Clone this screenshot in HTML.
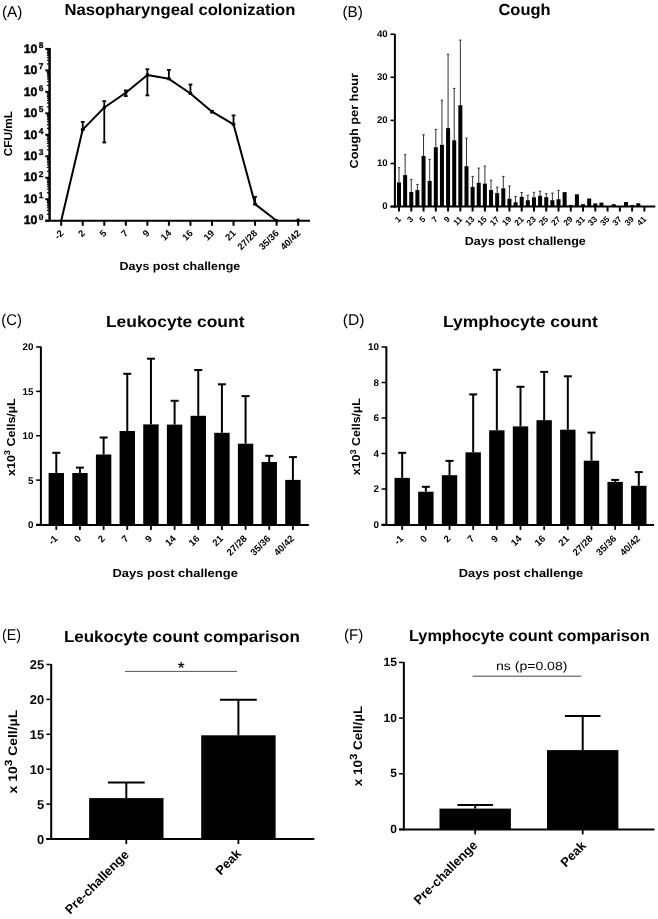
<!DOCTYPE html>
<html><head><meta charset="utf-8"><style>
html,body{margin:0;padding:0;background:#fff;}
svg{display:block;will-change:transform;}
text{font-family:"Liberation Sans",sans-serif;fill:#000;text-rendering:geometricPrecision;}
</style></head><body>
<svg width="658" height="919" viewBox="0 0 658 919">
<rect width="658" height="919" fill="#fff"/>
<text x="1.90" y="17.10" font-size="15.5"  text-anchor="start" textLength="20.4" lengthAdjust="spacingAndGlyphs" >(A)</text>
<text x="342.40" y="16.80" font-size="15.5"  text-anchor="start" textLength="20.4" lengthAdjust="spacingAndGlyphs" >(B)</text>
<text x="1.30" y="325.40" font-size="15.5"  text-anchor="start" textLength="20.6" lengthAdjust="spacingAndGlyphs" >(C)</text>
<text x="342.70" y="324.70" font-size="15.5"  text-anchor="start" textLength="21.7" lengthAdjust="spacingAndGlyphs" >(D)</text>
<text x="1.90" y="639.80" font-size="15.5"  text-anchor="start" textLength="19" lengthAdjust="spacingAndGlyphs" >(E)</text>
<text x="343.90" y="639.60" font-size="15.5"  text-anchor="start" textLength="19.3" lengthAdjust="spacingAndGlyphs" >(F)</text>
<text x="64.40" y="14.60" font-size="16" font-weight="bold" text-anchor="start" textLength="231" lengthAdjust="spacingAndGlyphs" >Nasopharyngeal colonization</text>
<text x="498.50" y="14.60" font-size="16" font-weight="bold" text-anchor="start" textLength="52" lengthAdjust="spacingAndGlyphs" >Cough</text>
<text x="105.90" y="326.50" font-size="16" font-weight="bold" text-anchor="start" textLength="138.6" lengthAdjust="spacingAndGlyphs" >Leukocyte count</text>
<text x="442.90" y="326.80" font-size="16" font-weight="bold" text-anchor="start" textLength="155" lengthAdjust="spacingAndGlyphs" >Lymphocyte count</text>
<text x="63.90" y="641.90" font-size="16" font-weight="bold" text-anchor="start" textLength="235.9" lengthAdjust="spacingAndGlyphs" >Leukocyte count comparison</text>
<text x="409.00" y="641.00" font-size="16" font-weight="bold" text-anchor="start" textLength="240.7" lengthAdjust="spacingAndGlyphs" >Lymphocyte count comparison</text>
<line x1="49.60" y1="48.00" x2="49.60" y2="221.30" stroke="#000" stroke-width="2.5"/>
<line x1="45.30" y1="220.70" x2="49.60" y2="220.70" stroke="#000" stroke-width="2"/>
<text x="37.40" y="224.40" font-size="12.3" font-weight="bold" text-anchor="end" stroke="#000" stroke-width="0.45">10</text>
<text x="38.80" y="219.70" font-size="8.4" font-weight="bold" text-anchor="start" stroke="#000" stroke-width="0.3">0</text>
<line x1="46.90" y1="214.24" x2="49.60" y2="214.24" stroke="#000" stroke-width="1.2"/>
<line x1="46.90" y1="210.45" x2="49.60" y2="210.45" stroke="#000" stroke-width="1.2"/>
<line x1="46.90" y1="207.77" x2="49.60" y2="207.77" stroke="#000" stroke-width="1.2"/>
<line x1="46.90" y1="205.69" x2="49.60" y2="205.69" stroke="#000" stroke-width="1.2"/>
<line x1="46.90" y1="203.99" x2="49.60" y2="203.99" stroke="#000" stroke-width="1.2"/>
<line x1="46.90" y1="202.55" x2="49.60" y2="202.55" stroke="#000" stroke-width="1.2"/>
<line x1="46.90" y1="201.31" x2="49.60" y2="201.31" stroke="#000" stroke-width="1.2"/>
<line x1="46.90" y1="200.21" x2="49.60" y2="200.21" stroke="#000" stroke-width="1.2"/>
<line x1="45.30" y1="199.22" x2="49.60" y2="199.22" stroke="#000" stroke-width="2"/>
<text x="37.40" y="202.92" font-size="12.3" font-weight="bold" text-anchor="end" stroke="#000" stroke-width="0.45">10</text>
<text x="38.80" y="198.22" font-size="8.4" font-weight="bold" text-anchor="start" stroke="#000" stroke-width="0.3">1</text>
<line x1="46.90" y1="192.76" x2="49.60" y2="192.76" stroke="#000" stroke-width="1.2"/>
<line x1="46.90" y1="188.98" x2="49.60" y2="188.98" stroke="#000" stroke-width="1.2"/>
<line x1="46.90" y1="186.30" x2="49.60" y2="186.30" stroke="#000" stroke-width="1.2"/>
<line x1="46.90" y1="184.21" x2="49.60" y2="184.21" stroke="#000" stroke-width="1.2"/>
<line x1="46.90" y1="182.51" x2="49.60" y2="182.51" stroke="#000" stroke-width="1.2"/>
<line x1="46.90" y1="181.08" x2="49.60" y2="181.08" stroke="#000" stroke-width="1.2"/>
<line x1="46.90" y1="179.83" x2="49.60" y2="179.83" stroke="#000" stroke-width="1.2"/>
<line x1="46.90" y1="178.73" x2="49.60" y2="178.73" stroke="#000" stroke-width="1.2"/>
<line x1="45.30" y1="177.75" x2="49.60" y2="177.75" stroke="#000" stroke-width="2"/>
<text x="37.40" y="181.45" font-size="12.3" font-weight="bold" text-anchor="end" stroke="#000" stroke-width="0.45">10</text>
<text x="38.80" y="176.75" font-size="8.4" font-weight="bold" text-anchor="start" stroke="#000" stroke-width="0.3">2</text>
<line x1="46.90" y1="171.29" x2="49.60" y2="171.29" stroke="#000" stroke-width="1.2"/>
<line x1="46.90" y1="167.50" x2="49.60" y2="167.50" stroke="#000" stroke-width="1.2"/>
<line x1="46.90" y1="164.82" x2="49.60" y2="164.82" stroke="#000" stroke-width="1.2"/>
<line x1="46.90" y1="162.74" x2="49.60" y2="162.74" stroke="#000" stroke-width="1.2"/>
<line x1="46.90" y1="161.04" x2="49.60" y2="161.04" stroke="#000" stroke-width="1.2"/>
<line x1="46.90" y1="159.60" x2="49.60" y2="159.60" stroke="#000" stroke-width="1.2"/>
<line x1="46.90" y1="158.36" x2="49.60" y2="158.36" stroke="#000" stroke-width="1.2"/>
<line x1="46.90" y1="157.26" x2="49.60" y2="157.26" stroke="#000" stroke-width="1.2"/>
<line x1="45.30" y1="156.27" x2="49.60" y2="156.27" stroke="#000" stroke-width="2"/>
<text x="37.40" y="159.97" font-size="12.3" font-weight="bold" text-anchor="end" stroke="#000" stroke-width="0.45">10</text>
<text x="38.80" y="155.27" font-size="8.4" font-weight="bold" text-anchor="start" stroke="#000" stroke-width="0.3">3</text>
<line x1="46.90" y1="149.81" x2="49.60" y2="149.81" stroke="#000" stroke-width="1.2"/>
<line x1="46.90" y1="146.03" x2="49.60" y2="146.03" stroke="#000" stroke-width="1.2"/>
<line x1="46.90" y1="143.35" x2="49.60" y2="143.35" stroke="#000" stroke-width="1.2"/>
<line x1="46.90" y1="141.26" x2="49.60" y2="141.26" stroke="#000" stroke-width="1.2"/>
<line x1="46.90" y1="139.56" x2="49.60" y2="139.56" stroke="#000" stroke-width="1.2"/>
<line x1="46.90" y1="138.13" x2="49.60" y2="138.13" stroke="#000" stroke-width="1.2"/>
<line x1="46.90" y1="136.88" x2="49.60" y2="136.88" stroke="#000" stroke-width="1.2"/>
<line x1="46.90" y1="135.78" x2="49.60" y2="135.78" stroke="#000" stroke-width="1.2"/>
<line x1="45.30" y1="134.80" x2="49.60" y2="134.80" stroke="#000" stroke-width="2"/>
<text x="37.40" y="138.50" font-size="12.3" font-weight="bold" text-anchor="end" stroke="#000" stroke-width="0.45">10</text>
<text x="38.80" y="133.80" font-size="8.4" font-weight="bold" text-anchor="start" stroke="#000" stroke-width="0.3">4</text>
<line x1="46.90" y1="128.34" x2="49.60" y2="128.34" stroke="#000" stroke-width="1.2"/>
<line x1="46.90" y1="124.55" x2="49.60" y2="124.55" stroke="#000" stroke-width="1.2"/>
<line x1="46.90" y1="121.87" x2="49.60" y2="121.87" stroke="#000" stroke-width="1.2"/>
<line x1="46.90" y1="119.79" x2="49.60" y2="119.79" stroke="#000" stroke-width="1.2"/>
<line x1="46.90" y1="118.09" x2="49.60" y2="118.09" stroke="#000" stroke-width="1.2"/>
<line x1="46.90" y1="116.65" x2="49.60" y2="116.65" stroke="#000" stroke-width="1.2"/>
<line x1="46.90" y1="115.41" x2="49.60" y2="115.41" stroke="#000" stroke-width="1.2"/>
<line x1="46.90" y1="114.31" x2="49.60" y2="114.31" stroke="#000" stroke-width="1.2"/>
<line x1="45.30" y1="113.32" x2="49.60" y2="113.32" stroke="#000" stroke-width="2"/>
<text x="37.40" y="117.02" font-size="12.3" font-weight="bold" text-anchor="end" stroke="#000" stroke-width="0.45">10</text>
<text x="38.80" y="112.32" font-size="8.4" font-weight="bold" text-anchor="start" stroke="#000" stroke-width="0.3">5</text>
<line x1="46.90" y1="106.86" x2="49.60" y2="106.86" stroke="#000" stroke-width="1.2"/>
<line x1="46.90" y1="103.08" x2="49.60" y2="103.08" stroke="#000" stroke-width="1.2"/>
<line x1="46.90" y1="100.40" x2="49.60" y2="100.40" stroke="#000" stroke-width="1.2"/>
<line x1="46.90" y1="98.31" x2="49.60" y2="98.31" stroke="#000" stroke-width="1.2"/>
<line x1="46.90" y1="96.61" x2="49.60" y2="96.61" stroke="#000" stroke-width="1.2"/>
<line x1="46.90" y1="95.18" x2="49.60" y2="95.18" stroke="#000" stroke-width="1.2"/>
<line x1="46.90" y1="93.93" x2="49.60" y2="93.93" stroke="#000" stroke-width="1.2"/>
<line x1="46.90" y1="92.83" x2="49.60" y2="92.83" stroke="#000" stroke-width="1.2"/>
<line x1="45.30" y1="91.85" x2="49.60" y2="91.85" stroke="#000" stroke-width="2"/>
<text x="37.40" y="95.55" font-size="12.3" font-weight="bold" text-anchor="end" stroke="#000" stroke-width="0.45">10</text>
<text x="38.80" y="90.85" font-size="8.4" font-weight="bold" text-anchor="start" stroke="#000" stroke-width="0.3">6</text>
<line x1="46.90" y1="85.39" x2="49.60" y2="85.39" stroke="#000" stroke-width="1.2"/>
<line x1="46.90" y1="81.60" x2="49.60" y2="81.60" stroke="#000" stroke-width="1.2"/>
<line x1="46.90" y1="78.92" x2="49.60" y2="78.92" stroke="#000" stroke-width="1.2"/>
<line x1="46.90" y1="76.84" x2="49.60" y2="76.84" stroke="#000" stroke-width="1.2"/>
<line x1="46.90" y1="75.14" x2="49.60" y2="75.14" stroke="#000" stroke-width="1.2"/>
<line x1="46.90" y1="73.70" x2="49.60" y2="73.70" stroke="#000" stroke-width="1.2"/>
<line x1="46.90" y1="72.46" x2="49.60" y2="72.46" stroke="#000" stroke-width="1.2"/>
<line x1="46.90" y1="71.36" x2="49.60" y2="71.36" stroke="#000" stroke-width="1.2"/>
<line x1="45.30" y1="70.37" x2="49.60" y2="70.37" stroke="#000" stroke-width="2"/>
<text x="37.40" y="74.07" font-size="12.3" font-weight="bold" text-anchor="end" stroke="#000" stroke-width="0.45">10</text>
<text x="38.80" y="69.37" font-size="8.4" font-weight="bold" text-anchor="start" stroke="#000" stroke-width="0.3">7</text>
<line x1="46.90" y1="63.91" x2="49.60" y2="63.91" stroke="#000" stroke-width="1.2"/>
<line x1="46.90" y1="60.13" x2="49.60" y2="60.13" stroke="#000" stroke-width="1.2"/>
<line x1="46.90" y1="57.45" x2="49.60" y2="57.45" stroke="#000" stroke-width="1.2"/>
<line x1="46.90" y1="55.36" x2="49.60" y2="55.36" stroke="#000" stroke-width="1.2"/>
<line x1="46.90" y1="53.66" x2="49.60" y2="53.66" stroke="#000" stroke-width="1.2"/>
<line x1="46.90" y1="52.23" x2="49.60" y2="52.23" stroke="#000" stroke-width="1.2"/>
<line x1="46.90" y1="50.98" x2="49.60" y2="50.98" stroke="#000" stroke-width="1.2"/>
<line x1="46.90" y1="49.88" x2="49.60" y2="49.88" stroke="#000" stroke-width="1.2"/>
<line x1="45.30" y1="48.90" x2="49.60" y2="48.90" stroke="#000" stroke-width="2"/>
<text x="37.40" y="52.60" font-size="12.3" font-weight="bold" text-anchor="end" stroke="#000" stroke-width="0.45">10</text>
<text x="38.80" y="47.90" font-size="8.4" font-weight="bold" text-anchor="start" stroke="#000" stroke-width="0.3">8</text>
<line x1="45.30" y1="220.70" x2="310.00" y2="220.70" stroke="#000" stroke-width="2"/>
<line x1="61.20" y1="220.70" x2="61.20" y2="225.80" stroke="#000" stroke-width="2"/>
<text x="64.20" y="233.80" font-size="9.5" font-weight="bold" text-anchor="end" transform="rotate(-45 64.20 233.80)" >-2</text>
<line x1="82.74" y1="220.70" x2="82.74" y2="225.80" stroke="#000" stroke-width="2"/>
<text x="85.74" y="233.80" font-size="9.5" font-weight="bold" text-anchor="end" transform="rotate(-45 85.74 233.80)" >2</text>
<line x1="104.28" y1="220.70" x2="104.28" y2="225.80" stroke="#000" stroke-width="2"/>
<text x="107.28" y="233.80" font-size="9.5" font-weight="bold" text-anchor="end" transform="rotate(-45 107.28 233.80)" >5</text>
<line x1="125.82" y1="220.70" x2="125.82" y2="225.80" stroke="#000" stroke-width="2"/>
<text x="128.82" y="233.80" font-size="9.5" font-weight="bold" text-anchor="end" transform="rotate(-45 128.82 233.80)" >7</text>
<line x1="147.36" y1="220.70" x2="147.36" y2="225.80" stroke="#000" stroke-width="2"/>
<text x="150.36" y="233.80" font-size="9.5" font-weight="bold" text-anchor="end" transform="rotate(-45 150.36 233.80)" >9</text>
<line x1="168.90" y1="220.70" x2="168.90" y2="225.80" stroke="#000" stroke-width="2"/>
<text x="171.90" y="233.80" font-size="9.5" font-weight="bold" text-anchor="end" transform="rotate(-45 171.90 233.80)" >14</text>
<line x1="190.44" y1="220.70" x2="190.44" y2="225.80" stroke="#000" stroke-width="2"/>
<text x="193.44" y="233.80" font-size="9.5" font-weight="bold" text-anchor="end" transform="rotate(-45 193.44 233.80)" >16</text>
<line x1="211.98" y1="220.70" x2="211.98" y2="225.80" stroke="#000" stroke-width="2"/>
<text x="214.98" y="233.80" font-size="9.5" font-weight="bold" text-anchor="end" transform="rotate(-45 214.98 233.80)" >19</text>
<line x1="233.52" y1="220.70" x2="233.52" y2="225.80" stroke="#000" stroke-width="2"/>
<text x="236.52" y="233.80" font-size="9.5" font-weight="bold" text-anchor="end" transform="rotate(-45 236.52 233.80)" >21</text>
<line x1="255.06" y1="220.70" x2="255.06" y2="225.80" stroke="#000" stroke-width="2"/>
<text x="258.06" y="233.80" font-size="9.5" font-weight="bold" text-anchor="end" transform="rotate(-45 258.06 233.80)" >27/28</text>
<line x1="276.60" y1="220.70" x2="276.60" y2="225.80" stroke="#000" stroke-width="2"/>
<text x="279.60" y="233.80" font-size="9.5" font-weight="bold" text-anchor="end" transform="rotate(-45 279.60 233.80)" >35/36</text>
<line x1="298.14" y1="220.70" x2="298.14" y2="225.80" stroke="#000" stroke-width="2"/>
<text x="301.14" y="233.80" font-size="9.5" font-weight="bold" text-anchor="end" transform="rotate(-45 301.14 233.80)" >40/42</text>
<polyline fill="none" stroke="#000" stroke-width="2" stroke-linejoin="round" points="61.2,220.7 82.7,129.6 104.3,107.5 125.8,92.7 147.4,74.9 168.9,78.8 190.4,93.5 212.0,111.7 233.5,124.3 255.1,204.1 276.6,220.7"/>
<rect x="81.24" y="128.10" width="3.00" height="3.00" fill="#000"/>
<rect x="102.78" y="106.00" width="3.00" height="3.00" fill="#000"/>
<rect x="124.32" y="91.20" width="3.00" height="3.00" fill="#000"/>
<rect x="145.86" y="73.40" width="3.00" height="3.00" fill="#000"/>
<rect x="167.40" y="77.30" width="3.00" height="3.00" fill="#000"/>
<rect x="188.94" y="92.00" width="3.00" height="3.00" fill="#000"/>
<rect x="210.48" y="110.20" width="3.00" height="3.00" fill="#000"/>
<rect x="232.02" y="122.80" width="3.00" height="3.00" fill="#000"/>
<rect x="253.56" y="202.60" width="3.00" height="3.00" fill="#000"/>
<rect x="275.10" y="219.20" width="3.00" height="3.00" fill="#000"/>
<line x1="82.74" y1="121.90" x2="82.74" y2="129.60" stroke="#000" stroke-width="1.8"/>
<line x1="80.84" y1="121.90" x2="84.64" y2="121.90" stroke="#000" stroke-width="1.8"/>
<line x1="80.84" y1="129.60" x2="84.64" y2="129.60" stroke="#000" stroke-width="1.8"/>
<line x1="104.28" y1="101.10" x2="104.28" y2="142.50" stroke="#000" stroke-width="1.8"/>
<line x1="102.38" y1="101.10" x2="106.18" y2="101.10" stroke="#000" stroke-width="1.8"/>
<line x1="102.38" y1="142.50" x2="106.18" y2="142.50" stroke="#000" stroke-width="1.8"/>
<line x1="125.82" y1="90.40" x2="125.82" y2="96.10" stroke="#000" stroke-width="1.8"/>
<line x1="123.92" y1="90.40" x2="127.72" y2="90.40" stroke="#000" stroke-width="1.8"/>
<line x1="123.92" y1="96.10" x2="127.72" y2="96.10" stroke="#000" stroke-width="1.8"/>
<line x1="147.36" y1="69.20" x2="147.36" y2="95.40" stroke="#000" stroke-width="1.8"/>
<line x1="145.46" y1="69.20" x2="149.26" y2="69.20" stroke="#000" stroke-width="1.8"/>
<line x1="145.46" y1="95.40" x2="149.26" y2="95.40" stroke="#000" stroke-width="1.8"/>
<line x1="168.90" y1="69.90" x2="168.90" y2="78.80" stroke="#000" stroke-width="1.8"/>
<line x1="167.00" y1="69.90" x2="170.80" y2="69.90" stroke="#000" stroke-width="1.8"/>
<line x1="167.00" y1="78.80" x2="170.80" y2="78.80" stroke="#000" stroke-width="1.8"/>
<line x1="190.44" y1="84.50" x2="190.44" y2="93.50" stroke="#000" stroke-width="1.8"/>
<line x1="188.54" y1="84.50" x2="192.34" y2="84.50" stroke="#000" stroke-width="1.8"/>
<line x1="188.54" y1="93.50" x2="192.34" y2="93.50" stroke="#000" stroke-width="1.8"/>
<line x1="233.52" y1="115.40" x2="233.52" y2="124.30" stroke="#000" stroke-width="1.8"/>
<line x1="231.62" y1="115.40" x2="235.42" y2="115.40" stroke="#000" stroke-width="1.8"/>
<line x1="231.62" y1="124.30" x2="235.42" y2="124.30" stroke="#000" stroke-width="1.8"/>
<line x1="255.06" y1="196.80" x2="255.06" y2="204.10" stroke="#000" stroke-width="1.8"/>
<line x1="253.16" y1="196.80" x2="256.96" y2="196.80" stroke="#000" stroke-width="1.8"/>
<line x1="253.16" y1="204.10" x2="256.96" y2="204.10" stroke="#000" stroke-width="1.8"/>
<line x1="211.98" y1="110.60" x2="211.98" y2="112.80" stroke="#000" stroke-width="1.6"/>
<line x1="210.18" y1="110.60" x2="213.78" y2="110.60" stroke="#000" stroke-width="1.4"/>
<line x1="210.18" y1="112.80" x2="213.78" y2="112.80" stroke="#000" stroke-width="1.4"/>
<rect x="296.64" y="218.60" width="3.00" height="3.20" fill="#000"/>
<text x="119.60" y="270.10" font-size="11.6" font-weight="bold" text-anchor="start" textLength="120.6" lengthAdjust="spacingAndGlyphs" >Days post challenge</text>
<text x="11.70" y="156.30" font-size="11.5" font-weight="bold" text-anchor="start" textLength="45.4" lengthAdjust="spacingAndGlyphs" transform="rotate(-90 11.70 156.30)" >CFU/mL</text>
<line x1="394.90" y1="34.00" x2="394.90" y2="207.60" stroke="#000" stroke-width="2"/>
<line x1="390.50" y1="206.60" x2="394.90" y2="206.60" stroke="#000" stroke-width="1.6"/>
<text x="387.60" y="209.30" font-size="9.6" font-weight="bold" text-anchor="end" >0</text>
<line x1="390.50" y1="163.50" x2="394.90" y2="163.50" stroke="#000" stroke-width="1.6"/>
<text x="387.60" y="166.20" font-size="9.6" font-weight="bold" text-anchor="end" >10</text>
<line x1="390.50" y1="120.40" x2="394.90" y2="120.40" stroke="#000" stroke-width="1.6"/>
<text x="387.60" y="123.10" font-size="9.6" font-weight="bold" text-anchor="end" >20</text>
<line x1="390.50" y1="77.30" x2="394.90" y2="77.30" stroke="#000" stroke-width="1.6"/>
<text x="387.60" y="80.00" font-size="9.6" font-weight="bold" text-anchor="end" >30</text>
<line x1="390.50" y1="34.20" x2="394.90" y2="34.20" stroke="#000" stroke-width="1.6"/>
<text x="387.60" y="36.90" font-size="9.6" font-weight="bold" text-anchor="end" >40</text>
<line x1="390.50" y1="206.60" x2="655.30" y2="206.60" stroke="#000" stroke-width="2"/>
<line x1="399.00" y1="167.70" x2="399.00" y2="182.40" stroke="#333" stroke-width="1"/>
<line x1="397.80" y1="167.70" x2="400.20" y2="167.70" stroke="#333" stroke-width="1"/>
<rect x="397.00" y="182.40" width="4.00" height="24.20" fill="#000"/>
<line x1="405.13" y1="154.70" x2="405.13" y2="175.10" stroke="#333" stroke-width="1"/>
<line x1="403.94" y1="154.70" x2="406.33" y2="154.70" stroke="#333" stroke-width="1"/>
<rect x="403.13" y="175.10" width="4.00" height="31.50" fill="#000"/>
<line x1="411.27" y1="179.40" x2="411.27" y2="192.00" stroke="#333" stroke-width="1"/>
<line x1="410.07" y1="179.40" x2="412.47" y2="179.40" stroke="#333" stroke-width="1"/>
<rect x="409.27" y="192.00" width="4.00" height="14.60" fill="#000"/>
<line x1="417.40" y1="184.40" x2="417.40" y2="190.10" stroke="#333" stroke-width="1"/>
<line x1="416.20" y1="184.40" x2="418.60" y2="184.40" stroke="#333" stroke-width="1"/>
<rect x="415.40" y="190.10" width="4.00" height="16.50" fill="#000"/>
<line x1="423.54" y1="134.80" x2="423.54" y2="156.00" stroke="#333" stroke-width="1"/>
<line x1="422.34" y1="134.80" x2="424.74" y2="134.80" stroke="#333" stroke-width="1"/>
<rect x="421.54" y="156.00" width="4.00" height="50.60" fill="#000"/>
<line x1="429.68" y1="159.40" x2="429.68" y2="180.90" stroke="#333" stroke-width="1"/>
<line x1="428.48" y1="159.40" x2="430.88" y2="159.40" stroke="#333" stroke-width="1"/>
<rect x="427.68" y="180.90" width="4.00" height="25.70" fill="#000"/>
<line x1="435.81" y1="129.40" x2="435.81" y2="147.20" stroke="#333" stroke-width="1"/>
<line x1="434.61" y1="129.40" x2="437.01" y2="129.40" stroke="#333" stroke-width="1"/>
<rect x="433.81" y="147.20" width="4.00" height="59.40" fill="#000"/>
<line x1="441.94" y1="100.20" x2="441.94" y2="144.80" stroke="#333" stroke-width="1"/>
<line x1="440.75" y1="100.20" x2="443.14" y2="100.20" stroke="#333" stroke-width="1"/>
<rect x="439.94" y="144.80" width="4.00" height="61.80" fill="#000"/>
<line x1="448.08" y1="54.20" x2="448.08" y2="128.10" stroke="#333" stroke-width="1"/>
<line x1="446.88" y1="54.20" x2="449.28" y2="54.20" stroke="#333" stroke-width="1"/>
<rect x="446.08" y="128.10" width="4.00" height="78.50" fill="#000"/>
<line x1="454.21" y1="88.40" x2="454.21" y2="140.30" stroke="#333" stroke-width="1"/>
<line x1="453.01" y1="88.40" x2="455.41" y2="88.40" stroke="#333" stroke-width="1"/>
<rect x="452.21" y="140.30" width="4.00" height="66.30" fill="#000"/>
<line x1="460.35" y1="40.10" x2="460.35" y2="105.20" stroke="#333" stroke-width="1"/>
<line x1="459.15" y1="40.10" x2="461.55" y2="40.10" stroke="#333" stroke-width="1"/>
<rect x="458.35" y="105.20" width="4.00" height="101.40" fill="#000"/>
<line x1="466.49" y1="138.10" x2="466.49" y2="166.20" stroke="#333" stroke-width="1"/>
<line x1="465.29" y1="138.10" x2="467.69" y2="138.10" stroke="#333" stroke-width="1"/>
<rect x="464.49" y="166.20" width="4.00" height="40.40" fill="#000"/>
<line x1="472.62" y1="176.40" x2="472.62" y2="187.00" stroke="#333" stroke-width="1"/>
<line x1="471.42" y1="176.40" x2="473.82" y2="176.40" stroke="#333" stroke-width="1"/>
<rect x="470.62" y="187.00" width="4.00" height="19.60" fill="#000"/>
<line x1="478.75" y1="168.10" x2="478.75" y2="182.80" stroke="#333" stroke-width="1"/>
<line x1="477.56" y1="168.10" x2="479.95" y2="168.10" stroke="#333" stroke-width="1"/>
<rect x="476.75" y="182.80" width="4.00" height="23.80" fill="#000"/>
<line x1="484.89" y1="166.10" x2="484.89" y2="183.60" stroke="#333" stroke-width="1"/>
<line x1="483.69" y1="166.10" x2="486.09" y2="166.10" stroke="#333" stroke-width="1"/>
<rect x="482.89" y="183.60" width="4.00" height="23.00" fill="#000"/>
<line x1="491.02" y1="180.20" x2="491.02" y2="190.00" stroke="#333" stroke-width="1"/>
<line x1="489.82" y1="180.20" x2="492.22" y2="180.20" stroke="#333" stroke-width="1"/>
<rect x="489.02" y="190.00" width="4.00" height="16.60" fill="#000"/>
<line x1="497.16" y1="187.10" x2="497.16" y2="193.10" stroke="#333" stroke-width="1"/>
<line x1="495.96" y1="187.10" x2="498.36" y2="187.10" stroke="#333" stroke-width="1"/>
<rect x="495.16" y="193.10" width="4.00" height="13.50" fill="#000"/>
<line x1="503.30" y1="176.40" x2="503.30" y2="188.30" stroke="#333" stroke-width="1"/>
<line x1="502.10" y1="176.40" x2="504.50" y2="176.40" stroke="#333" stroke-width="1"/>
<rect x="501.30" y="188.30" width="4.00" height="18.30" fill="#000"/>
<line x1="509.43" y1="186.00" x2="509.43" y2="198.70" stroke="#333" stroke-width="1"/>
<line x1="508.23" y1="186.00" x2="510.63" y2="186.00" stroke="#333" stroke-width="1"/>
<rect x="507.43" y="198.70" width="4.00" height="7.90" fill="#000"/>
<line x1="515.57" y1="196.50" x2="515.57" y2="202.30" stroke="#333" stroke-width="1"/>
<line x1="514.37" y1="196.50" x2="516.77" y2="196.50" stroke="#333" stroke-width="1"/>
<rect x="513.57" y="202.30" width="4.00" height="4.30" fill="#000"/>
<line x1="521.70" y1="192.50" x2="521.70" y2="196.80" stroke="#333" stroke-width="1"/>
<line x1="520.50" y1="192.50" x2="522.90" y2="192.50" stroke="#333" stroke-width="1"/>
<rect x="519.70" y="196.80" width="4.00" height="9.80" fill="#000"/>
<line x1="527.84" y1="195.20" x2="527.84" y2="200.20" stroke="#333" stroke-width="1"/>
<line x1="526.63" y1="195.20" x2="529.04" y2="195.20" stroke="#333" stroke-width="1"/>
<rect x="525.84" y="200.20" width="4.00" height="6.40" fill="#000"/>
<line x1="533.97" y1="192.30" x2="533.97" y2="197.30" stroke="#333" stroke-width="1"/>
<line x1="532.77" y1="192.30" x2="535.17" y2="192.30" stroke="#333" stroke-width="1"/>
<rect x="531.97" y="197.30" width="4.00" height="9.30" fill="#000"/>
<line x1="540.11" y1="191.10" x2="540.11" y2="195.70" stroke="#333" stroke-width="1"/>
<line x1="538.90" y1="191.10" x2="541.31" y2="191.10" stroke="#333" stroke-width="1"/>
<rect x="538.11" y="195.70" width="4.00" height="10.90" fill="#000"/>
<line x1="546.24" y1="193.60" x2="546.24" y2="197.20" stroke="#333" stroke-width="1"/>
<line x1="545.04" y1="193.60" x2="547.44" y2="193.60" stroke="#333" stroke-width="1"/>
<rect x="544.24" y="197.20" width="4.00" height="9.40" fill="#000"/>
<line x1="552.38" y1="193.10" x2="552.38" y2="200.20" stroke="#333" stroke-width="1"/>
<line x1="551.17" y1="193.10" x2="553.58" y2="193.10" stroke="#333" stroke-width="1"/>
<rect x="550.38" y="200.20" width="4.00" height="6.40" fill="#000"/>
<line x1="558.51" y1="190.30" x2="558.51" y2="199.20" stroke="#333" stroke-width="1"/>
<line x1="557.31" y1="190.30" x2="559.71" y2="190.30" stroke="#333" stroke-width="1"/>
<rect x="556.51" y="199.20" width="4.00" height="7.40" fill="#000"/>
<rect x="562.64" y="192.10" width="4.00" height="14.50" fill="#000"/>
<rect x="568.78" y="205.00" width="4.00" height="1.60" fill="#000"/>
<rect x="574.91" y="194.30" width="4.00" height="12.30" fill="#000"/>
<rect x="581.05" y="204.20" width="4.00" height="2.40" fill="#000"/>
<rect x="587.18" y="198.50" width="4.00" height="8.10" fill="#000"/>
<rect x="593.32" y="203.40" width="4.00" height="3.20" fill="#000"/>
<rect x="599.45" y="202.60" width="4.00" height="4.00" fill="#000"/>
<rect x="611.73" y="204.20" width="4.00" height="2.40" fill="#000"/>
<rect x="624.00" y="202.00" width="4.00" height="4.60" fill="#000"/>
<rect x="630.13" y="205.00" width="4.00" height="1.60" fill="#000"/>
<rect x="636.26" y="203.30" width="4.00" height="3.30" fill="#000"/>
<line x1="399.00" y1="206.60" x2="399.00" y2="211.50" stroke="#000" stroke-width="2"/>
<text x="401.50" y="219.80" font-size="8.3" font-weight="bold" text-anchor="end" transform="rotate(-45 401.50 219.80)" >1</text>
<line x1="411.27" y1="206.60" x2="411.27" y2="211.50" stroke="#000" stroke-width="2"/>
<text x="413.77" y="219.80" font-size="8.3" font-weight="bold" text-anchor="end" transform="rotate(-45 413.77 219.80)" >3</text>
<line x1="423.54" y1="206.60" x2="423.54" y2="211.50" stroke="#000" stroke-width="2"/>
<text x="426.04" y="219.80" font-size="8.3" font-weight="bold" text-anchor="end" transform="rotate(-45 426.04 219.80)" >5</text>
<line x1="435.81" y1="206.60" x2="435.81" y2="211.50" stroke="#000" stroke-width="2"/>
<text x="438.31" y="219.80" font-size="8.3" font-weight="bold" text-anchor="end" transform="rotate(-45 438.31 219.80)" >7</text>
<line x1="448.08" y1="206.60" x2="448.08" y2="211.50" stroke="#000" stroke-width="2"/>
<text x="450.58" y="219.80" font-size="8.3" font-weight="bold" text-anchor="end" transform="rotate(-45 450.58 219.80)" >9</text>
<line x1="460.35" y1="206.60" x2="460.35" y2="211.50" stroke="#000" stroke-width="2"/>
<text x="462.85" y="219.80" font-size="8.3" font-weight="bold" text-anchor="end" transform="rotate(-45 462.85 219.80)" >11</text>
<line x1="472.62" y1="206.60" x2="472.62" y2="211.50" stroke="#000" stroke-width="2"/>
<text x="475.12" y="219.80" font-size="8.3" font-weight="bold" text-anchor="end" transform="rotate(-45 475.12 219.80)" >13</text>
<line x1="484.89" y1="206.60" x2="484.89" y2="211.50" stroke="#000" stroke-width="2"/>
<text x="487.39" y="219.80" font-size="8.3" font-weight="bold" text-anchor="end" transform="rotate(-45 487.39 219.80)" >15</text>
<line x1="497.16" y1="206.60" x2="497.16" y2="211.50" stroke="#000" stroke-width="2"/>
<text x="499.66" y="219.80" font-size="8.3" font-weight="bold" text-anchor="end" transform="rotate(-45 499.66 219.80)" >17</text>
<line x1="509.43" y1="206.60" x2="509.43" y2="211.50" stroke="#000" stroke-width="2"/>
<text x="511.93" y="219.80" font-size="8.3" font-weight="bold" text-anchor="end" transform="rotate(-45 511.93 219.80)" >19</text>
<line x1="521.70" y1="206.60" x2="521.70" y2="211.50" stroke="#000" stroke-width="2"/>
<text x="524.20" y="219.80" font-size="8.3" font-weight="bold" text-anchor="end" transform="rotate(-45 524.20 219.80)" >21</text>
<line x1="533.97" y1="206.60" x2="533.97" y2="211.50" stroke="#000" stroke-width="2"/>
<text x="536.47" y="219.80" font-size="8.3" font-weight="bold" text-anchor="end" transform="rotate(-45 536.47 219.80)" >23</text>
<line x1="546.24" y1="206.60" x2="546.24" y2="211.50" stroke="#000" stroke-width="2"/>
<text x="548.74" y="219.80" font-size="8.3" font-weight="bold" text-anchor="end" transform="rotate(-45 548.74 219.80)" >25</text>
<line x1="558.51" y1="206.60" x2="558.51" y2="211.50" stroke="#000" stroke-width="2"/>
<text x="561.01" y="219.80" font-size="8.3" font-weight="bold" text-anchor="end" transform="rotate(-45 561.01 219.80)" >27</text>
<line x1="570.78" y1="206.60" x2="570.78" y2="211.50" stroke="#000" stroke-width="2"/>
<text x="573.28" y="219.80" font-size="8.3" font-weight="bold" text-anchor="end" transform="rotate(-45 573.28 219.80)" >29</text>
<line x1="583.05" y1="206.60" x2="583.05" y2="211.50" stroke="#000" stroke-width="2"/>
<text x="585.55" y="219.80" font-size="8.3" font-weight="bold" text-anchor="end" transform="rotate(-45 585.55 219.80)" >31</text>
<line x1="595.32" y1="206.60" x2="595.32" y2="211.50" stroke="#000" stroke-width="2"/>
<text x="597.82" y="219.80" font-size="8.3" font-weight="bold" text-anchor="end" transform="rotate(-45 597.82 219.80)" >33</text>
<line x1="607.59" y1="206.60" x2="607.59" y2="211.50" stroke="#000" stroke-width="2"/>
<text x="610.09" y="219.80" font-size="8.3" font-weight="bold" text-anchor="end" transform="rotate(-45 610.09 219.80)" >35</text>
<line x1="619.86" y1="206.60" x2="619.86" y2="211.50" stroke="#000" stroke-width="2"/>
<text x="622.36" y="219.80" font-size="8.3" font-weight="bold" text-anchor="end" transform="rotate(-45 622.36 219.80)" >37</text>
<line x1="632.13" y1="206.60" x2="632.13" y2="211.50" stroke="#000" stroke-width="2"/>
<text x="634.63" y="219.80" font-size="8.3" font-weight="bold" text-anchor="end" transform="rotate(-45 634.63 219.80)" >39</text>
<line x1="644.40" y1="206.60" x2="644.40" y2="211.50" stroke="#000" stroke-width="2"/>
<text x="646.90" y="219.80" font-size="8.3" font-weight="bold" text-anchor="end" transform="rotate(-45 646.90 219.80)" >41</text>
<text x="464.80" y="244.60" font-size="11.7" font-weight="bold" text-anchor="start" textLength="121" lengthAdjust="spacingAndGlyphs" >Days post challenge</text>
<text x="358.30" y="168.50" font-size="11.7" font-weight="bold" text-anchor="start" textLength="95.4" lengthAdjust="spacingAndGlyphs" transform="rotate(-90 358.30 168.50)" >Cough per hour</text>
<line x1="40.90" y1="346.50" x2="40.90" y2="525.90" stroke="#000" stroke-width="2"/>
<line x1="36.10" y1="524.50" x2="40.90" y2="524.50" stroke="#000" stroke-width="1.5"/>
<text x="33.50" y="527.90" font-size="9.8" font-weight="bold" text-anchor="end" >0</text>
<line x1="36.10" y1="480.12" x2="40.90" y2="480.12" stroke="#000" stroke-width="1.5"/>
<text x="33.50" y="483.52" font-size="9.8" font-weight="bold" text-anchor="end" >5</text>
<line x1="36.10" y1="435.75" x2="40.90" y2="435.75" stroke="#000" stroke-width="1.5"/>
<text x="33.50" y="439.15" font-size="9.8" font-weight="bold" text-anchor="end" >10</text>
<line x1="36.10" y1="391.38" x2="40.90" y2="391.38" stroke="#000" stroke-width="1.5"/>
<text x="33.50" y="394.77" font-size="9.8" font-weight="bold" text-anchor="end" >15</text>
<line x1="36.10" y1="347.00" x2="40.90" y2="347.00" stroke="#000" stroke-width="1.5"/>
<text x="33.50" y="350.40" font-size="9.8" font-weight="bold" text-anchor="end" >20</text>
<line x1="36.10" y1="524.90" x2="308.90" y2="524.90" stroke="#000" stroke-width="2"/>
<line x1="56.30" y1="452.80" x2="56.30" y2="473.00" stroke="#000" stroke-width="2"/>
<line x1="52.30" y1="452.80" x2="60.30" y2="452.80" stroke="#000" stroke-width="2"/>
<rect x="48.60" y="473.00" width="15.40" height="51.90" fill="#000"/>
<line x1="56.30" y1="524.90" x2="56.30" y2="529.90" stroke="#000" stroke-width="1.8"/>
<line x1="79.96" y1="467.60" x2="79.96" y2="473.00" stroke="#000" stroke-width="2"/>
<line x1="75.96" y1="467.60" x2="83.96" y2="467.60" stroke="#000" stroke-width="2"/>
<rect x="72.26" y="473.00" width="15.40" height="51.90" fill="#000"/>
<line x1="79.96" y1="524.90" x2="79.96" y2="529.90" stroke="#000" stroke-width="1.8"/>
<line x1="103.62" y1="437.50" x2="103.62" y2="454.50" stroke="#000" stroke-width="2"/>
<line x1="99.62" y1="437.50" x2="107.62" y2="437.50" stroke="#000" stroke-width="2"/>
<rect x="95.92" y="454.50" width="15.40" height="70.40" fill="#000"/>
<line x1="103.62" y1="524.90" x2="103.62" y2="529.90" stroke="#000" stroke-width="1.8"/>
<line x1="127.28" y1="373.80" x2="127.28" y2="431.00" stroke="#000" stroke-width="2"/>
<line x1="123.28" y1="373.80" x2="131.28" y2="373.80" stroke="#000" stroke-width="2"/>
<rect x="119.58" y="431.00" width="15.40" height="93.90" fill="#000"/>
<line x1="127.28" y1="524.90" x2="127.28" y2="529.90" stroke="#000" stroke-width="1.8"/>
<line x1="150.94" y1="358.70" x2="150.94" y2="424.40" stroke="#000" stroke-width="2"/>
<line x1="146.94" y1="358.70" x2="154.94" y2="358.70" stroke="#000" stroke-width="2"/>
<rect x="143.24" y="424.40" width="15.40" height="100.50" fill="#000"/>
<line x1="150.94" y1="524.90" x2="150.94" y2="529.90" stroke="#000" stroke-width="1.8"/>
<line x1="174.60" y1="400.80" x2="174.60" y2="424.60" stroke="#000" stroke-width="2"/>
<line x1="170.60" y1="400.80" x2="178.60" y2="400.80" stroke="#000" stroke-width="2"/>
<rect x="166.90" y="424.60" width="15.40" height="100.30" fill="#000"/>
<line x1="174.60" y1="524.90" x2="174.60" y2="529.90" stroke="#000" stroke-width="1.8"/>
<line x1="198.26" y1="370.00" x2="198.26" y2="415.80" stroke="#000" stroke-width="2"/>
<line x1="194.26" y1="370.00" x2="202.26" y2="370.00" stroke="#000" stroke-width="2"/>
<rect x="190.56" y="415.80" width="15.40" height="109.10" fill="#000"/>
<line x1="198.26" y1="524.90" x2="198.26" y2="529.90" stroke="#000" stroke-width="1.8"/>
<line x1="221.92" y1="384.30" x2="221.92" y2="432.80" stroke="#000" stroke-width="2"/>
<line x1="217.92" y1="384.30" x2="225.92" y2="384.30" stroke="#000" stroke-width="2"/>
<rect x="214.22" y="432.80" width="15.40" height="92.10" fill="#000"/>
<line x1="221.92" y1="524.90" x2="221.92" y2="529.90" stroke="#000" stroke-width="1.8"/>
<line x1="245.58" y1="396.10" x2="245.58" y2="443.70" stroke="#000" stroke-width="2"/>
<line x1="241.58" y1="396.10" x2="249.58" y2="396.10" stroke="#000" stroke-width="2"/>
<rect x="237.88" y="443.70" width="15.40" height="81.20" fill="#000"/>
<line x1="245.58" y1="524.90" x2="245.58" y2="529.90" stroke="#000" stroke-width="1.8"/>
<line x1="269.24" y1="455.80" x2="269.24" y2="462.00" stroke="#000" stroke-width="2"/>
<line x1="265.24" y1="455.80" x2="273.24" y2="455.80" stroke="#000" stroke-width="2"/>
<rect x="261.54" y="462.00" width="15.40" height="62.90" fill="#000"/>
<line x1="269.24" y1="524.90" x2="269.24" y2="529.90" stroke="#000" stroke-width="1.8"/>
<line x1="292.90" y1="457.10" x2="292.90" y2="479.90" stroke="#000" stroke-width="2"/>
<line x1="288.90" y1="457.10" x2="296.90" y2="457.10" stroke="#000" stroke-width="2"/>
<rect x="285.20" y="479.90" width="15.40" height="45.00" fill="#000"/>
<line x1="292.90" y1="524.90" x2="292.90" y2="529.90" stroke="#000" stroke-width="1.8"/>
<text x="58.20" y="539.20" font-size="9.6" font-weight="bold" text-anchor="end" transform="rotate(-45 58.20 539.20)" >-1</text>
<text x="81.86" y="539.20" font-size="9.6" font-weight="bold" text-anchor="end" transform="rotate(-45 81.86 539.20)" >0</text>
<text x="105.52" y="539.20" font-size="9.6" font-weight="bold" text-anchor="end" transform="rotate(-45 105.52 539.20)" >2</text>
<text x="129.18" y="539.20" font-size="9.6" font-weight="bold" text-anchor="end" transform="rotate(-45 129.18 539.20)" >7</text>
<text x="152.84" y="539.20" font-size="9.6" font-weight="bold" text-anchor="end" transform="rotate(-45 152.84 539.20)" >9</text>
<text x="176.50" y="539.20" font-size="9.6" font-weight="bold" text-anchor="end" transform="rotate(-45 176.50 539.20)" >14</text>
<text x="200.16" y="539.20" font-size="9.6" font-weight="bold" text-anchor="end" transform="rotate(-45 200.16 539.20)" >16</text>
<text x="223.82" y="539.20" font-size="9.6" font-weight="bold" text-anchor="end" transform="rotate(-45 223.82 539.20)" >21</text>
<text x="247.48" y="539.20" font-size="9.6" font-weight="bold" text-anchor="end" transform="rotate(-45 247.48 539.20)" >27/28</text>
<text x="271.14" y="539.20" font-size="9.6" font-weight="bold" text-anchor="end" transform="rotate(-45 271.14 539.20)" >35/36</text>
<text x="294.80" y="539.20" font-size="9.6" font-weight="bold" text-anchor="end" transform="rotate(-45 294.80 539.20)" >40/42</text>
<text x="112.50" y="576.70" font-size="11.6" font-weight="bold" text-anchor="start" textLength="125.4" lengthAdjust="spacingAndGlyphs" >Days post challenge</text>
<text x="15.00" y="476.00" font-size="11.5" font-weight="bold" text-anchor="start" textLength="77.7" lengthAdjust="spacingAndGlyphs" transform="rotate(-90 15.00 476.00)" >x10<tspan font-size="8.5" dy="-4.6">3</tspan><tspan dy="4.6"> Cells/µL</tspan></text>
<line x1="386.35" y1="346.50" x2="386.35" y2="525.90" stroke="#000" stroke-width="2"/>
<line x1="381.55" y1="524.50" x2="386.35" y2="524.50" stroke="#000" stroke-width="1.5"/>
<text x="378.95" y="527.90" font-size="9.8" font-weight="bold" text-anchor="end" >0</text>
<line x1="381.55" y1="489.00" x2="386.35" y2="489.00" stroke="#000" stroke-width="1.5"/>
<text x="378.95" y="492.40" font-size="9.8" font-weight="bold" text-anchor="end" >2</text>
<line x1="381.55" y1="453.50" x2="386.35" y2="453.50" stroke="#000" stroke-width="1.5"/>
<text x="378.95" y="456.90" font-size="9.8" font-weight="bold" text-anchor="end" >4</text>
<line x1="381.55" y1="418.00" x2="386.35" y2="418.00" stroke="#000" stroke-width="1.5"/>
<text x="378.95" y="421.40" font-size="9.8" font-weight="bold" text-anchor="end" >6</text>
<line x1="381.55" y1="382.50" x2="386.35" y2="382.50" stroke="#000" stroke-width="1.5"/>
<text x="378.95" y="385.90" font-size="9.8" font-weight="bold" text-anchor="end" >8</text>
<line x1="381.55" y1="347.00" x2="386.35" y2="347.00" stroke="#000" stroke-width="1.5"/>
<text x="378.95" y="350.40" font-size="9.8" font-weight="bold" text-anchor="end" >10</text>
<line x1="381.55" y1="524.90" x2="654.00" y2="524.90" stroke="#000" stroke-width="2"/>
<line x1="402.20" y1="452.80" x2="402.20" y2="477.90" stroke="#000" stroke-width="2"/>
<line x1="398.20" y1="452.80" x2="406.20" y2="452.80" stroke="#000" stroke-width="2"/>
<rect x="394.50" y="477.90" width="15.40" height="47.00" fill="#000"/>
<line x1="402.20" y1="524.90" x2="402.20" y2="529.90" stroke="#000" stroke-width="1.8"/>
<line x1="425.86" y1="486.80" x2="425.86" y2="491.70" stroke="#000" stroke-width="2"/>
<line x1="421.86" y1="486.80" x2="429.86" y2="486.80" stroke="#000" stroke-width="2"/>
<rect x="418.16" y="491.70" width="15.40" height="33.20" fill="#000"/>
<line x1="425.86" y1="524.90" x2="425.86" y2="529.90" stroke="#000" stroke-width="1.8"/>
<line x1="449.52" y1="460.90" x2="449.52" y2="475.20" stroke="#000" stroke-width="2"/>
<line x1="445.52" y1="460.90" x2="453.52" y2="460.90" stroke="#000" stroke-width="2"/>
<rect x="441.82" y="475.20" width="15.40" height="49.70" fill="#000"/>
<line x1="449.52" y1="524.90" x2="449.52" y2="529.90" stroke="#000" stroke-width="1.8"/>
<line x1="473.18" y1="394.40" x2="473.18" y2="452.30" stroke="#000" stroke-width="2"/>
<line x1="469.18" y1="394.40" x2="477.18" y2="394.40" stroke="#000" stroke-width="2"/>
<rect x="465.48" y="452.30" width="15.40" height="72.60" fill="#000"/>
<line x1="473.18" y1="524.90" x2="473.18" y2="529.90" stroke="#000" stroke-width="1.8"/>
<line x1="496.84" y1="369.80" x2="496.84" y2="430.30" stroke="#000" stroke-width="2"/>
<line x1="492.84" y1="369.80" x2="500.84" y2="369.80" stroke="#000" stroke-width="2"/>
<rect x="489.14" y="430.30" width="15.40" height="94.60" fill="#000"/>
<line x1="496.84" y1="524.90" x2="496.84" y2="529.90" stroke="#000" stroke-width="1.8"/>
<line x1="520.50" y1="386.80" x2="520.50" y2="426.40" stroke="#000" stroke-width="2"/>
<line x1="516.50" y1="386.80" x2="524.50" y2="386.80" stroke="#000" stroke-width="2"/>
<rect x="512.80" y="426.40" width="15.40" height="98.50" fill="#000"/>
<line x1="520.50" y1="524.90" x2="520.50" y2="529.90" stroke="#000" stroke-width="1.8"/>
<line x1="544.16" y1="371.90" x2="544.16" y2="420.20" stroke="#000" stroke-width="2"/>
<line x1="540.16" y1="371.90" x2="548.16" y2="371.90" stroke="#000" stroke-width="2"/>
<rect x="536.46" y="420.20" width="15.40" height="104.70" fill="#000"/>
<line x1="544.16" y1="524.90" x2="544.16" y2="529.90" stroke="#000" stroke-width="1.8"/>
<line x1="567.82" y1="376.30" x2="567.82" y2="429.70" stroke="#000" stroke-width="2"/>
<line x1="563.82" y1="376.30" x2="571.82" y2="376.30" stroke="#000" stroke-width="2"/>
<rect x="560.12" y="429.70" width="15.40" height="95.20" fill="#000"/>
<line x1="567.82" y1="524.90" x2="567.82" y2="529.90" stroke="#000" stroke-width="1.8"/>
<line x1="591.48" y1="432.60" x2="591.48" y2="460.70" stroke="#000" stroke-width="2"/>
<line x1="587.48" y1="432.60" x2="595.48" y2="432.60" stroke="#000" stroke-width="2"/>
<rect x="583.78" y="460.70" width="15.40" height="64.20" fill="#000"/>
<line x1="591.48" y1="524.90" x2="591.48" y2="529.90" stroke="#000" stroke-width="1.8"/>
<line x1="615.14" y1="479.90" x2="615.14" y2="481.90" stroke="#000" stroke-width="2"/>
<line x1="611.14" y1="479.90" x2="619.14" y2="479.90" stroke="#000" stroke-width="2"/>
<rect x="607.44" y="481.90" width="15.40" height="43.00" fill="#000"/>
<line x1="615.14" y1="524.90" x2="615.14" y2="529.90" stroke="#000" stroke-width="1.8"/>
<line x1="638.80" y1="472.10" x2="638.80" y2="485.80" stroke="#000" stroke-width="2"/>
<line x1="634.80" y1="472.10" x2="642.80" y2="472.10" stroke="#000" stroke-width="2"/>
<rect x="631.10" y="485.80" width="15.40" height="39.10" fill="#000"/>
<line x1="638.80" y1="524.90" x2="638.80" y2="529.90" stroke="#000" stroke-width="1.8"/>
<text x="404.10" y="539.20" font-size="9.6" font-weight="bold" text-anchor="end" transform="rotate(-45 404.10 539.20)" >-1</text>
<text x="427.76" y="539.20" font-size="9.6" font-weight="bold" text-anchor="end" transform="rotate(-45 427.76 539.20)" >0</text>
<text x="451.42" y="539.20" font-size="9.6" font-weight="bold" text-anchor="end" transform="rotate(-45 451.42 539.20)" >2</text>
<text x="475.08" y="539.20" font-size="9.6" font-weight="bold" text-anchor="end" transform="rotate(-45 475.08 539.20)" >7</text>
<text x="498.74" y="539.20" font-size="9.6" font-weight="bold" text-anchor="end" transform="rotate(-45 498.74 539.20)" >9</text>
<text x="522.40" y="539.20" font-size="9.6" font-weight="bold" text-anchor="end" transform="rotate(-45 522.40 539.20)" >14</text>
<text x="546.06" y="539.20" font-size="9.6" font-weight="bold" text-anchor="end" transform="rotate(-45 546.06 539.20)" >16</text>
<text x="569.72" y="539.20" font-size="9.6" font-weight="bold" text-anchor="end" transform="rotate(-45 569.72 539.20)" >21</text>
<text x="593.38" y="539.20" font-size="9.6" font-weight="bold" text-anchor="end" transform="rotate(-45 593.38 539.20)" >27/28</text>
<text x="617.04" y="539.20" font-size="9.6" font-weight="bold" text-anchor="end" transform="rotate(-45 617.04 539.20)" >35/36</text>
<text x="640.70" y="539.20" font-size="9.6" font-weight="bold" text-anchor="end" transform="rotate(-45 640.70 539.20)" >40/42</text>
<text x="458.70" y="576.70" font-size="11.6" font-weight="bold" text-anchor="start" textLength="124.6" lengthAdjust="spacingAndGlyphs" >Days post challenge</text>
<text x="360.20" y="475.30" font-size="11.5" font-weight="bold" text-anchor="start" textLength="77.1" lengthAdjust="spacingAndGlyphs" transform="rotate(-90 360.20 475.30)" >x10<tspan font-size="8.5" dy="-4.6">3</tspan><tspan dy="4.6"> Cells/µL</tspan></text>
<line x1="51.20" y1="664.00" x2="51.20" y2="840.00" stroke="#000" stroke-width="2"/>
<line x1="46.40" y1="839.00" x2="51.20" y2="839.00" stroke="#000" stroke-width="1.5"/>
<text x="44.20" y="843.50" font-size="12.9" font-weight="bold" text-anchor="end" >0</text>
<line x1="46.40" y1="804.10" x2="51.20" y2="804.10" stroke="#000" stroke-width="1.5"/>
<text x="44.20" y="808.60" font-size="12.9" font-weight="bold" text-anchor="end" >5</text>
<line x1="46.40" y1="769.20" x2="51.20" y2="769.20" stroke="#000" stroke-width="1.5"/>
<text x="44.20" y="773.70" font-size="12.9" font-weight="bold" text-anchor="end" >10</text>
<line x1="46.40" y1="734.30" x2="51.20" y2="734.30" stroke="#000" stroke-width="1.5"/>
<text x="44.20" y="738.80" font-size="12.9" font-weight="bold" text-anchor="end" >15</text>
<line x1="46.40" y1="699.40" x2="51.20" y2="699.40" stroke="#000" stroke-width="1.5"/>
<text x="44.20" y="703.90" font-size="12.9" font-weight="bold" text-anchor="end" >20</text>
<line x1="46.40" y1="664.50" x2="51.20" y2="664.50" stroke="#000" stroke-width="1.5"/>
<text x="44.20" y="669.00" font-size="12.9" font-weight="bold" text-anchor="end" >25</text>
<line x1="46.40" y1="839.00" x2="314.30" y2="839.00" stroke="#000" stroke-width="2"/>
<line x1="126.30" y1="782.40" x2="126.30" y2="798.10" stroke="#000" stroke-width="2"/>
<line x1="107.90" y1="782.40" x2="144.70" y2="782.40" stroke="#000" stroke-width="2"/>
<rect x="89.10" y="798.10" width="74.40" height="40.90" fill="#000"/>
<line x1="126.30" y1="839.00" x2="126.30" y2="844.00" stroke="#000" stroke-width="1.8"/>
<line x1="238.40" y1="699.70" x2="238.40" y2="735.30" stroke="#000" stroke-width="2"/>
<line x1="220.00" y1="699.70" x2="256.80" y2="699.70" stroke="#000" stroke-width="2"/>
<rect x="201.20" y="735.30" width="74.40" height="103.70" fill="#000"/>
<line x1="238.40" y1="839.00" x2="238.40" y2="844.00" stroke="#000" stroke-width="1.8"/>
<line x1="125.00" y1="671.40" x2="237.00" y2="671.40" stroke="#555" stroke-width="1"/>
<line x1="181.20" y1="665.10" x2="181.20" y2="661.90" stroke="#111" stroke-width="1.3"/>
<line x1="181.20" y1="665.10" x2="184.24" y2="664.11" stroke="#111" stroke-width="1.3"/>
<line x1="181.20" y1="665.10" x2="183.17" y2="667.62" stroke="#111" stroke-width="1.3"/>
<line x1="181.20" y1="665.10" x2="179.23" y2="667.62" stroke="#111" stroke-width="1.3"/>
<line x1="181.20" y1="665.10" x2="178.16" y2="664.11" stroke="#111" stroke-width="1.3"/>
<text x="129.70" y="855.50" font-size="12.8" font-weight="bold" text-anchor="end" transform="rotate(-45 129.70 855.50)" >Pre-challenge</text>
<text x="241.90" y="854.50" font-size="12.8" font-weight="bold" text-anchor="end" transform="rotate(-45 241.90 854.50)" >Peak</text>
<text x="17.20" y="793.50" font-size="12.4" font-weight="bold" text-anchor="start" textLength="83.7" lengthAdjust="spacingAndGlyphs" transform="rotate(-90 17.20 793.50)" >x 10<tspan font-size="10.5" dy="-5.6">3</tspan><tspan dy="5.6"> Cell/µL</tspan></text>
<line x1="403.85" y1="662.00" x2="403.85" y2="830.40" stroke="#000" stroke-width="2"/>
<line x1="399.05" y1="829.40" x2="403.85" y2="829.40" stroke="#000" stroke-width="1.5"/>
<text x="396.85" y="833.00" font-size="12.0" font-weight="bold" text-anchor="end" >0</text>
<line x1="399.05" y1="773.75" x2="403.85" y2="773.75" stroke="#000" stroke-width="1.5"/>
<text x="396.85" y="777.35" font-size="12.0" font-weight="bold" text-anchor="end" >5</text>
<line x1="399.05" y1="718.10" x2="403.85" y2="718.10" stroke="#000" stroke-width="1.5"/>
<text x="396.85" y="721.70" font-size="12.0" font-weight="bold" text-anchor="end" >10</text>
<line x1="399.05" y1="662.45" x2="403.85" y2="662.45" stroke="#000" stroke-width="1.5"/>
<text x="396.85" y="666.05" font-size="12.0" font-weight="bold" text-anchor="end" >15</text>
<line x1="399.05" y1="829.40" x2="654.50" y2="829.40" stroke="#000" stroke-width="2"/>
<line x1="475.20" y1="805.00" x2="475.20" y2="808.60" stroke="#000" stroke-width="2"/>
<line x1="457.45" y1="805.00" x2="492.95" y2="805.00" stroke="#000" stroke-width="2"/>
<rect x="439.50" y="808.60" width="71.40" height="20.80" fill="#000"/>
<line x1="475.20" y1="829.40" x2="475.20" y2="834.40" stroke="#000" stroke-width="1.8"/>
<line x1="582.70" y1="716.00" x2="582.70" y2="750.10" stroke="#000" stroke-width="2"/>
<line x1="564.95" y1="716.00" x2="600.45" y2="716.00" stroke="#000" stroke-width="2"/>
<rect x="547.00" y="750.10" width="71.40" height="79.30" fill="#000"/>
<line x1="582.70" y1="829.40" x2="582.70" y2="834.40" stroke="#000" stroke-width="1.8"/>
<line x1="472.60" y1="676.20" x2="581.40" y2="676.20" stroke="#444" stroke-width="1"/>
<text x="496.00" y="669.80" font-size="12"  text-anchor="start" textLength="71.4" lengthAdjust="spacingAndGlyphs" >ns (p=0.08)</text>
<text x="478.40" y="845.90" font-size="12.8" font-weight="bold" text-anchor="end" transform="rotate(-45 478.40 845.90)" >Pre-challenge</text>
<text x="586.80" y="846.50" font-size="12.8" font-weight="bold" text-anchor="end" transform="rotate(-45 586.80 846.50)" >Peak</text>
<text x="362.20" y="786.20" font-size="12.4" font-weight="bold" text-anchor="start" textLength="80.4" lengthAdjust="spacingAndGlyphs" transform="rotate(-90 362.20 786.20)" >x 10<tspan font-size="10.5" dy="-5.6">3</tspan><tspan dy="5.6"> Cell/µL</tspan></text>
</svg>
</body></html>
